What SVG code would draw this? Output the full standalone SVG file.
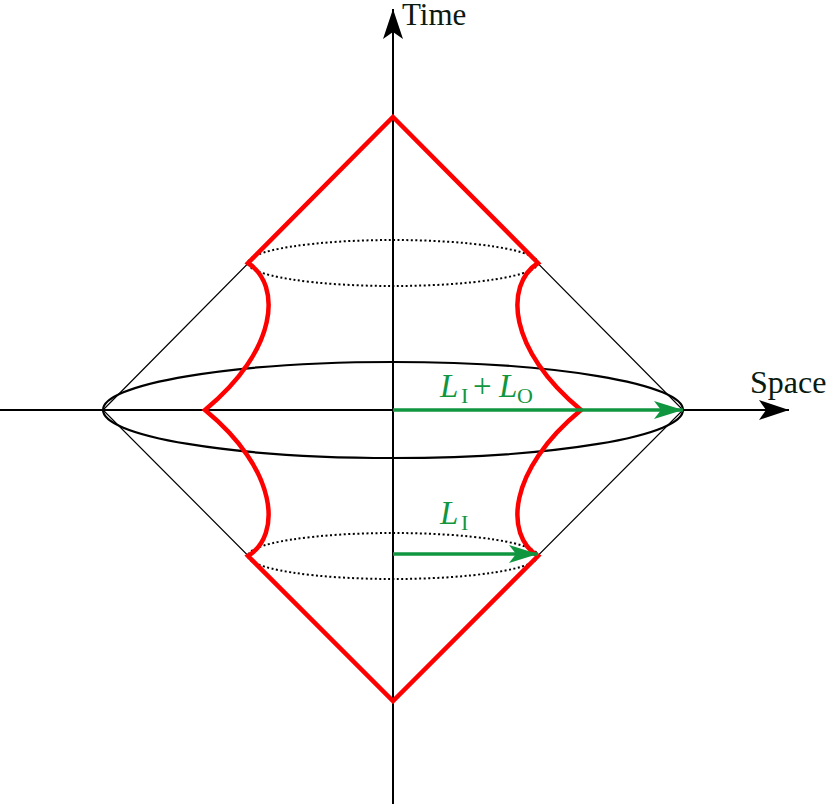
<svg xmlns="http://www.w3.org/2000/svg" width="830" height="804" viewBox="0 0 830 804">
<style>
.axis{stroke:#000;stroke-width:2;fill:none}
.thin{stroke:#000;stroke-width:1.2;fill:none}
.ell{stroke:#000;stroke-width:2.2;fill:none}
.dot{stroke:#000;stroke-width:2;fill:none;stroke-dasharray:2 2.5}
.red{stroke:#ff0000;stroke-width:4.5;fill:none;stroke-linejoin:miter}
.grn{stroke:#119640;stroke-width:3.5;fill:none}
text{font-family:'Liberation Serif','Times New Roman','DejaVu Serif',serif}
.lbl{font-size:32px;fill:#0a1a10}
.glbl{fill:#119640}
.it{font-style:italic;font-size:33px}
.sub{font-size:22px}
</style>
<defs>
<marker id="ah" markerUnits="userSpaceOnUse" markerWidth="32" markerHeight="24" refX="30" refY="12" orient="auto">
<path d="M0,2 L30,12 L0,22 L7,12 Z" fill="#000"/>
</marker>
<marker id="gh" markerUnits="userSpaceOnUse" markerWidth="32" markerHeight="24" refX="29" refY="12" orient="auto">
<path d="M0,3 L29,12 L0,21 L7,12 Z" fill="#119640"/>
</marker>
</defs>
<g id="connectors">
<line id="time-axis" class="axis" x1="393" y1="804" x2="393" y2="9" marker-end="url(#ah)"/>
<line id="space-axis" class="axis" x1="0" y1="410" x2="789" y2="410" marker-end="url(#ah)"/>
<path id="lightcone" class="thin" d="M103,410 L393,117 L683,410 L393,701 Z"/>
<ellipse id="big-ellipse" class="ell" cx="393" cy="410" rx="290" ry="48"/>
<ellipse id="upper-ellipse" class="dot" cx="393" cy="263" rx="145" ry="23"/>
<ellipse id="lower-ellipse" class="dot" cx="393" cy="556" rx="145" ry="23"/>
<path id="red-shape" class="red" d="M393,117 L538,263 C504,285 508,350 581,410 C508,470 504,535 538,556 L393,701 L248,556 C282,535 278,470 205,410 C278,350 282,285 248,263 Z"/>
<line id="arrow-lilo" class="grn" x1="393" y1="410" x2="683" y2="410" marker-end="url(#gh)"/>
<line id="arrow-li" class="grn" x1="393" y1="554" x2="538" y2="554" marker-end="url(#gh)"/>
</g>
<g id="labels">
<text class="lbl" x="402" y="25" font-size="31" font-family="Liberation Serif, serif" style="font-size:31px">Time</text>
<text class="lbl" x="750" y="393" font-family="Liberation Serif, serif">Space</text>
<text class="glbl" font-family="Liberation Serif, serif"><tspan class="it" x="440" y="397">L</tspan><tspan class="sub" x="461" y="403">I</tspan><tspan font-size="33" x="473" y="397">+</tspan><tspan class="it" x="499" y="397">L</tspan><tspan class="sub" x="517" y="403">O</tspan></text>
<text class="glbl" font-family="Liberation Serif, serif"><tspan class="it" x="440" y="524">L</tspan><tspan class="sub" x="461" y="530">I</tspan></text>
</g>
</svg>
